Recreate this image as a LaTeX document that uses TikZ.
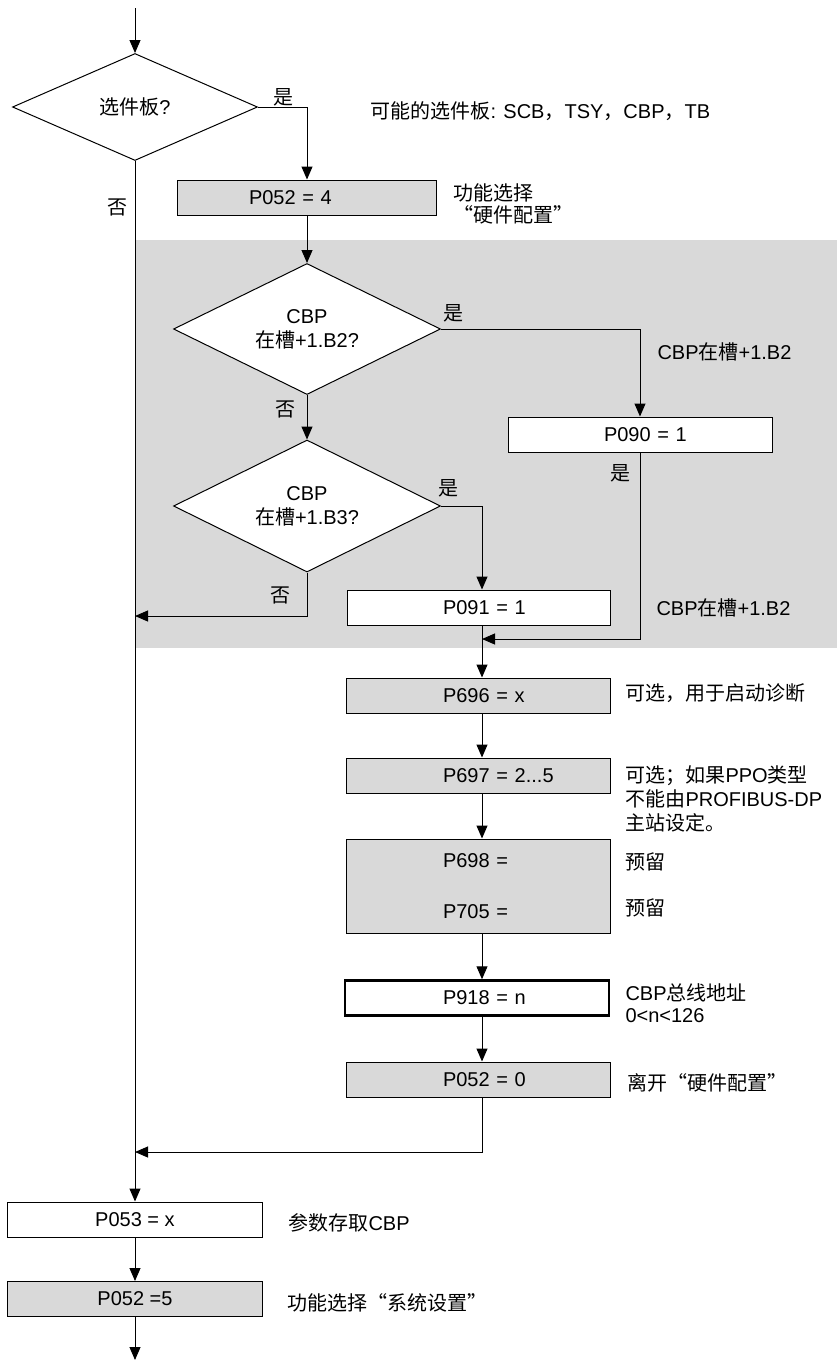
\documentclass[tikz,border=0pt]{standalone}
\usepackage{fontspec}
\setmainfont{Liberation Sans}
\newfontfamily\cjk{Noto Sans CJK SC}
\usetikzlibrary{arrows.meta,shapes.geometric}
\definecolor{boxgray}{RGB}{217,217,217}
\newcommand{\zhtext}[1]{{\cjk #1}}
\begin{document}
\begin{tikzpicture}[x=1pt,y=-1pt,font=\fontsize{20}{24}\selectfont,line width=1pt,
  arr/.style={-{Triangle[length=13pt,width=11pt]}},
  dec/.style={diamond,draw,fill=white,inner sep=0pt,align=center,shape aspect=2.1},
  lbox/.style={rectangle,draw,minimum height=35pt,inner sep=0pt,text width=#1,align=left},
  cbox/.style={rectangle,draw,minimum height=35pt,minimum width=255pt,inner sep=0pt,align=center},
  grayf/.style={fill=boxgray},
  whitef/.style={fill=white},
  note/.style={anchor=west,align=left,inner sep=0pt},
  yn/.style={inner sep=0pt}]
\useasboundingbox (0,0) rectangle (837,1360);
\fill[boxgray] (135,240) rectangle (837,648);

% decisions
\node[dec,minimum width=245pt,minimum height=107pt] (d1) at (135,107) {\zhtext{选件板}?};
\node[dec,minimum width=267pt,minimum height=131pt] (d2) at (307,329) {CBP\\\zhtext{在槽}+1.B2?};
\node[dec,minimum width=267pt,minimum height=132pt] (d3) at (307,506) {CBP\\\zhtext{在槽}+1.B3?};

% boxes
\node[lbox=259pt,grayf] (b1) at (306.5,197.5) {\hspace*{72pt}P052 = 4};
\node[lbox=264pt,whitef] (p090) at (640,434.5) {\hspace*{96pt}P090 = 1};
\node[lbox=263pt,whitef] (p091) at (478.5,607.5) {\hspace*{96pt}P091 = 1};
\node[lbox=264pt,grayf] (p696) at (478,695.5) {\hspace*{97pt}P696 = x};
\node[lbox=264pt,grayf] (p697) at (478,775.5) {\hspace*{97pt}P697 = 2...5};
\node[lbox=264pt,grayf,minimum height=94pt] (p698) at (478,886) {\hspace*{97pt}P698 =\\[27pt]\hspace*{97pt}P705 =};
\node[lbox=264pt,whitef,line width=2.5pt] (p918) at (477,998) {\hspace*{98pt}P918 = n};
\node[lbox=264pt,grayf] (p0520) at (478,1079.5) {\hspace*{97pt}P052 = 0};
\node[cbox,whitef] (p053) at (135,1219.5) {P053 = x};
\node[cbox,grayf] (p0525) at (135,1299) {P052 =5};

% notes
\node[note] (n1) at (370,111) {\zhtext{可能的选件板}: SCB\zhtext{，}TSY\zhtext{，}CBP\zhtext{，}TB};
\node[note] (n2) at (453,204) {\zhtext{功能选择}\\[-2pt]\zhtext{“硬件配置”}};
\node[note] (n3) at (657,352) {CBP\zhtext{在槽}+1.B2};
\node[note] (n4) at (656,608) {CBP\zhtext{在槽}+1.B2};
\node[note] (n5) at (625,693) {\zhtext{可选，用于启动诊断}};
\node[note] (n6) at (625,799) {\zhtext{可选；如果}PPO\zhtext{类型}\\\zhtext{不能由}PROFIBUS-DP\\\zhtext{主站设定。}};
\node[note] (n7) at (625,862) {\zhtext{预留}};
\node[note] (n8) at (625,908) {\zhtext{预留}};
\node[note] (n9) at (625,1003) {CBP\zhtext{总线地址}\\[-2pt]0<n<126};
\node[note] (n10) at (627,1083) {\zhtext{离开“硬件配置”}};
\node[note] (n11) at (288,1223) {\zhtext{参数存取}CBP};
\node[note] (n12) at (287,1303) {\zhtext{功能选择“系统设置”}};

% yes/no labels
\node[yn] (y1) at (283,97) {\zhtext{是}};
\node[yn] (no1) at (117,207) {\zhtext{否}};
\node[yn] (y2) at (453,313) {\zhtext{是}};
\node[yn] (no2) at (285,409) {\zhtext{否}};
\node[yn] (y3) at (448,488) {\zhtext{是}};
\node[yn] (no3) at (280,595) {\zhtext{否}};
\node[yn] (y4) at (620,473) {\zhtext{是}};

% helper coordinates
\coordinate (top) at (135,8);
\coordinate (colB) at (307,0);
\coordinate (colR) at (482,0);
\coordinate (j1) at (135,616);
\coordinate (j2) at (482,639);
\coordinate (j3) at (135,1152);
\coordinate (bot) at (135,1360);

% connectors
\draw[arr] (top) -- (d1.north);
\draw[arr] (d1.east) -| (b1.north -| colB);
\draw[arr] (b1.south -| colB) -- (d2.north);
\draw[arr] (d2.east) -| (p090.north);
\draw[arr] (d2.south) -- (d3.north);
\draw[arr] (d3.east) -| (p091.north -| colR);
\draw[arr] (d3.south) |- (j1);
\draw[arr] (p090.south) |- (j2);
\draw[arr] (p091.south -| colR) -- (p696.north -| colR);
\draw[arr] (p696.south -| colR) -- (p697.north -| colR);
\draw[arr] (p697.south -| colR) -- (p698.north -| colR);
\draw[arr] (p698.south -| colR) -- (p918.north -| colR);
\draw[arr] (p918.south -| colR) -- (p0520.north -| colR);
\draw[arr] (p0520.south -| colR) |- (j3);
\draw[arr] (d1.south) -- (p053.north);
\draw[arr] (p053.south) -- (p0525.north);
\draw[arr] (p0525.south) -- (bot);
\end{tikzpicture}
\end{document}
